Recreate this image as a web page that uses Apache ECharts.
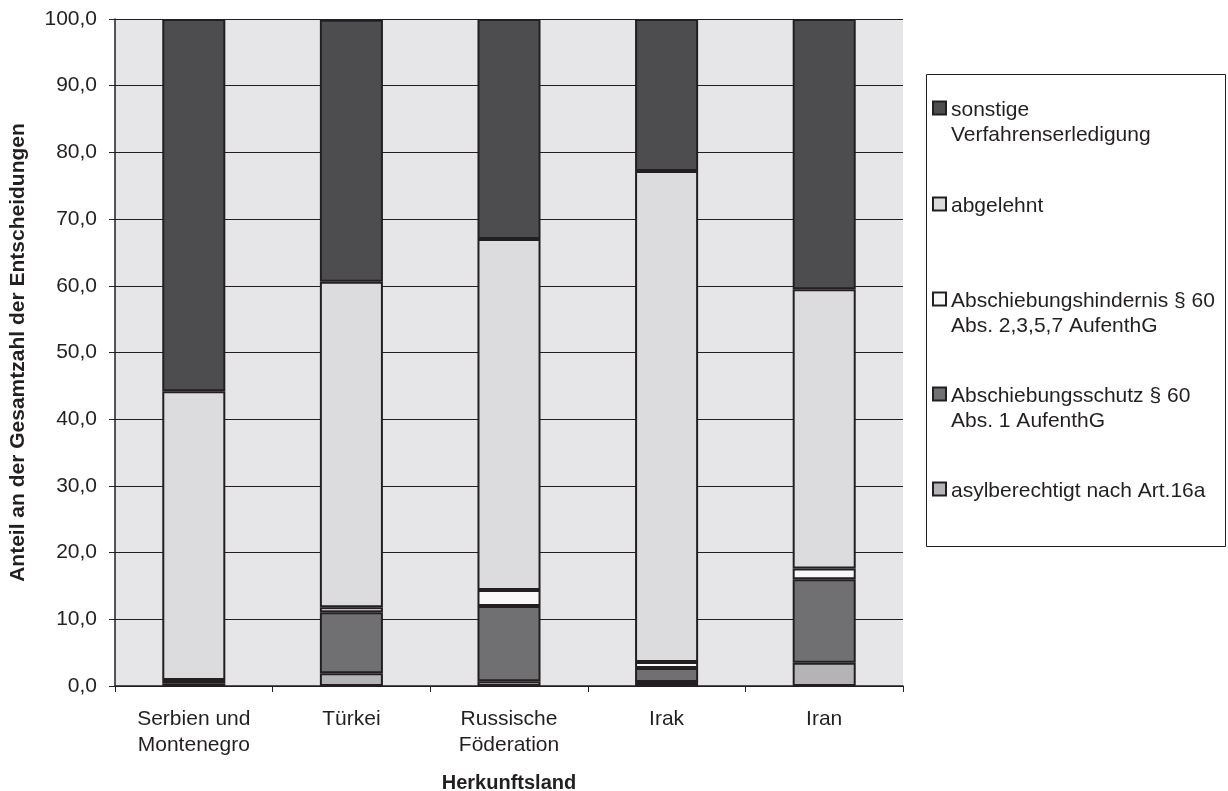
<!DOCTYPE html>
<html><head><meta charset="utf-8">
<script src="https://cdn.jsdelivr.net/npm/echarts@6/dist/echarts.min.js"></script>
<style>html,body{margin:0;padding:0;background:#fff}#c{width:1228px;height:791px}</style>
</head><body><div id="c"></div>
<script>
const categories = ['Serbien und\nMontenegro', 'Türkei', 'Russische\nFöderation', 'Irak', 'Iran'];
const asylberechtigt = [0.1, 1.9, 0.7, 0.6, 3.5];
const abschiebungsschutz = [0.3, 9.15, 11.3, 2.1, 12.5];
const abschiebungshindernis = [0.5, 0.75, 2.4, 0.9, 1.6];
const abgelehnt = [43.3, 48.8, 52.6, 73.6, 41.9];
const sonstige = [55.8, 39.3, 33.0, 22.8, 40.5];
const seriesNames = ['asylberechtigt nach Art.16a', 'Abschiebungsschutz § 60\nAbs. 1 AufenthG', 'Abschiebungshindernis § 60\nAbs. 2,3,5,7 AufenthG', 'abgelehnt', 'sonstige\nVerfahrenserledigung'];
const seriesData = [asylberechtigt, abschiebungsschutz, abschiebungshindernis, abgelehnt, sonstige];
const colors = ['#b4b4b7', '#707073', '#f8f8f8', '#dcdcde', '#4d4d4f'];
const yTicks = [0, 10, 20, 30, 40, 50, 60, 70, 80, 90, 100];

const font = 'Liberation Sans, Arial, sans-serif';
const ink = '#231f20';
const chart = echarts.init(document.getElementById('c'));

const series = seriesData.map((d, i) => ({
  name: seriesNames[i], type: 'bar', stack: 'total', data: d,
  barWidth: '40%',
  itemStyle: { color: colors[i], borderColor: ink, borderWidth: 2 }
}));

// Legend (drawn as graphic so the swatch aligns with the first text line)
const legendCenters = [108, 204, 299, 394, 489];
const legendGraphics = [{ type: 'rect', shape: { x: 926.5, y: 74.5, width: 299, height: 472 }, style: { fill: 'none', stroke: ink, lineWidth: 1 } }];
[4, 3, 2, 1, 0].forEach((idx, k) => {
  const cy = legendCenters[k];
  legendGraphics.push({ type: 'rect', shape: { x: 933, y: cy - 6.5, width: 13, height: 13 }, style: { fill: colors[idx], stroke: ink, lineWidth: 2 } });
  legendGraphics.push({ type: 'text', x: 951, y: cy - 10.5, style: { text: seriesNames[idx], font: '21px ' + font, fill: ink, lineHeight: 25, textVerticalAlign: 'top' } });
});

chart.setOption({
  animation: false,
  backgroundColor: '#ffffff',
  grid: { left: 115, right: 325, top: 19, bottom: 105, show: true, backgroundColor: '#e6e6e8', borderWidth: 0, containLabel: false, outerBoundsMode: 'none' },
  graphic: legendGraphics,
  xAxis: {
    type: 'category', data: categories,
    name: 'Herkunftsland', nameLocation: 'middle', nameGap: 87,
    nameTextStyle: { fontFamily: font, fontSize: 20, fontWeight: 'bold', color: ink },
    axisLine: { lineStyle: { color: ink, width: 1.5 } },
    axisTick: { show: true, alignWithLabel: false, length: 6, lineStyle: { color: ink } },
    axisLabel: { fontFamily: font, fontSize: 21, color: ink, margin: 20, lineHeight: 26 }
  },
  yAxis: {
    type: 'value', min: 0, max: 100, interval: 10,
    name: 'Anteil an der Gesamtzahl der Entscheidungen', nameLocation: 'middle', nameGap: 86,
    nameTextStyle: { fontFamily: font, fontSize: 21, fontWeight: 'bold', color: ink },
    axisLine: { show: true, lineStyle: { color: ink, width: 1.5 } },
    axisTick: { show: true, length: 6, lineStyle: { color: ink } },
    splitLine: { show: true, lineStyle: { color: ink, width: 1 } },
    axisLabel: { fontFamily: font, fontSize: 21, color: ink, margin: 18,
      formatter: v => yTicks.includes(v) ? v.toFixed(1).replace('.', ',') : '' }
  },
  series: series
});
</script></body></html>
